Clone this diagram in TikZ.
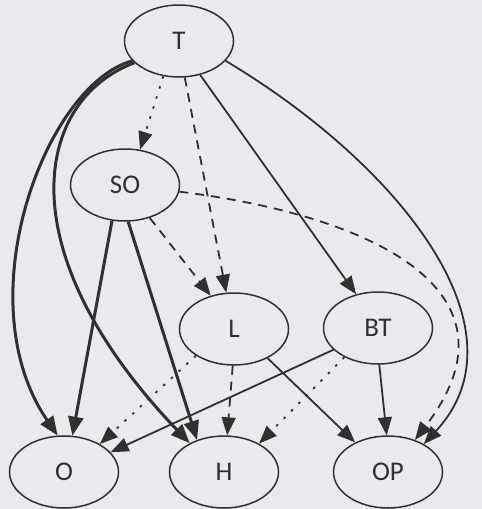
\documentclass[tikz,border=0pt]{standalone}
\usepackage{fontspec}
\setmainfont{Carlito}
\usetikzlibrary{shapes.geometric,arrows.meta}
\definecolor{paper}{RGB}{233,234,237}
\definecolor{ink}{RGB}{48,48,48}
\tikzset{
  var/.style={ellipse, draw=ink, line width=1.5pt, minimum width=109pt,
    minimum height=72pt, inner sep=0pt, text=ink,
    font=\fontsize{27}{32}\selectfont},
  link/.style={draw=ink, line width=1.8pt,
    -{Triangle[length=18pt,width=14pt]}},
  strong/.style={link, line width=3pt,
    -{Triangle[length=19pt,width=15pt]}},
  dashlink/.style={link, dash pattern=on 9pt off 7pt},
  dotlink/.style={link, dash pattern=on 2.5pt off 8pt},
}
\begin{document}
\begin{tikzpicture}[x=1pt,y=-1pt]
  \fill[paper] (0,0) rectangle (482,509);
  \useasboundingbox (0,0) rectangle (482,509);

  % variables
  \node[var] (T)  at (179,41)  {T};
  \node[var] (SO) at (125,185) {SO};
  \node[var] (L)  at (234,329) {L};
  \node[var] (BT) at (378,328) {BT};
  \node[var] (O)  at (64,472)  {O};
  \node[var] (H)  at (224,472) {H};
  \node[var] (OP) at (388,472) {OP};

  % from T
  \draw[strong] (T.203) .. controls (45,85) and (-35,300) .. (O.100);
  \draw[strong] (T.206) .. controls (35,100) and (5,250) .. (H.140);
  \draw[dotlink] (T.246) -- (SO.67);
  \draw[dashlink] (T.279) -- (L.102);
  \draw[link] (T.302) -- (BT.123);
  \draw[link] (T.337) .. controls (400,165) and (530,330) .. (OP.38);

  % from SO
  \draw[strong] (SO.250) -- (O.77);
  \draw[strong] (SO.275) -- (H.130);
  \draw[dashlink] (SO.307) -- (L.125);
  \draw[dashlink] (SO.353) .. controls (370,215) and (530,290) .. (OP.50);

  % from L
  \draw[dotlink] (L.215) -- (O.38);
  \draw[dashlink] (L.268) -- (H.85);
  \draw[link] (L.319) -- (OP.138);

  % from BT
  \draw[link] (BT.206) -- (O.23);
  \draw[dotlink] (BT.221) -- (H.39);
  \draw[link] (BT.272) -- (OP.92);
\end{tikzpicture}
\end{document}
